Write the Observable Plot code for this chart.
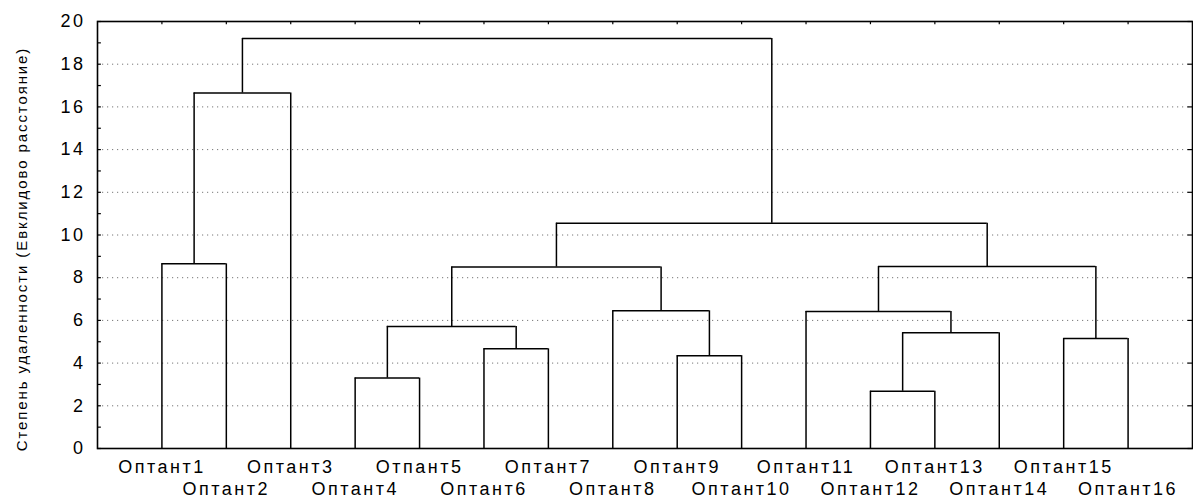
<!DOCTYPE html>
<html>
<head>
<meta charset="utf-8">
<script src="https://cdn.jsdelivr.net/npm/d3@7"></script>
<script src="https://cdn.jsdelivr.net/npm/@observablehq/plot@0.6"></script>
<style>
  html, body { margin: 0; padding: 0; background: #fff; }
  #chart svg { display: block; }
</style>
</head>
<body>
<div id="chart"></div>
<script>
// Leaves (in dendrogram order)
const leafLabels = ["Оптант1","Оптант2","Оптант3","Оптант4","Отпант5","Оптант6","Оптант7","Оптант8",
  "Оптант9","Оптант10","Оптант11","Оптант12","Оптант13","Оптант14","Оптант15","Оптант16"];

// Merges: node name, its two children (leaf number or node name), linkage distance
const nodeNames   = ["A","B","C","D","E","F","G","H","I","J","K","L","M","N","O"];
const childLeft   = [1,  "A", 4,  6,  "C", 9,  8,  "E", 12, "I", 11, 15, "K", "H", "B"];
const childRight  = [2,  3,   5,  7,  "D", 10, "F", "G", 13, 14, "J", 16, "L", "M", "N"];
const mergeHeight = [8.65, 16.65, 3.3, 4.67, 5.72, 4.35, 6.45, 8.5, 2.68, 5.42, 6.42, 5.15, 8.52, 10.55, 19.2];

const yTicks = [0,2,4,6,8,10,12,14,16,18,20];
const yTitle = "Степень удаленности (Евклидово расстояние)";

// Layout of the dendrogram (positions computed from the tree)
const pos = {}, hgt = {};
leafLabels.forEach((_, i) => { pos[i + 1] = i + 1; hgt[i + 1] = 0; });
const vSegs = [], hSegs = [];
nodeNames.forEach((n, i) => {
  const a = childLeft[i], b = childRight[i], h = mergeHeight[i];
  vSegs.push({x: pos[a], y1: hgt[a], y2: h});
  vSegs.push({x: pos[b], y1: hgt[b], y2: h});
  hSegs.push({y: h, x1: pos[a], x2: pos[b]});
  pos[n] = (pos[a] + pos[b]) / 2;
  hgt[n] = h;
});

const leafIdx = leafLabels.map((_, i) => i + 1);
const odd = leafIdx.filter(d => d % 2 === 1);
const even = leafIdx.filter(d => d % 2 === 0);
const minor = d3.range(0, 21);

const plot = Plot.plot({
  width: 1193,
  height: 499,
  marginLeft: 97,
  marginRight: 1,
  marginTop: 21,
  marginBottom: 51,
  style: {fontFamily: "'Liberation Sans', Arial, sans-serif", fontSize: "18px", color: "#000", background: "#fff"},
  x: {domain: [0, 17], axis: null},
  y: {domain: [0, 20], axis: null},
  marks: [
    Plot.gridY(yTicks.filter(d => d > 0 && d < 20), {stroke: "#777", strokeOpacity: 1, strokeWidth: 1, strokeDasharray: "1.2,3.8"}),
    // inward minor ticks on left, even ticks on right, leaf ticks on top
    Plot.ruleY(minor, {x1: 0, x2: 0.06, stroke: "#000", strokeWidth: 1.2}),
    Plot.ruleY(yTicks, {x1: 16.93, x2: 17, stroke: "#000", strokeWidth: 1.2}),
    Plot.ruleX(leafIdx, {y1: 20, y2: 19.85, stroke: "#000", strokeWidth: 1.2}),
    Plot.ruleX(vSegs, {x: "x", y1: "y1", y2: "y2", stroke: "#000", strokeWidth: 1.5}),
    Plot.ruleY(hSegs, {y: "y", x1: "x1", x2: "x2", stroke: "#000", strokeWidth: 1.5}),
    Plot.frame({stroke: "#000", strokeWidth: 1.6}),
    Plot.axisY(yTicks, {anchor: "left", tickSize: 0, tickPadding: 12, fontSize: 18, label: null}),
    Plot.axisX(odd, {anchor: "bottom", tickSize: 0, tickPadding: 12, fontSize: 18, label: null, tickFormat: d => leafLabels[d - 1]}),
    Plot.axisX(even, {anchor: "bottom", tickSize: 0, tickPadding: 34, fontSize: 18, label: null, tickFormat: d => leafLabels[d - 1]}),
    Plot.text([yTitle], {frameAnchor: "left", dx: -75, dy: 14, rotate: -90, fontSize: 15, textAnchor: "middle", lineAnchor: "middle"})
  ]
});
d3.select(plot).selectAll("text").attr("letter-spacing", "2.5px");
d3.select(plot).selectAll("text").filter(function() { return this.textContent === yTitle; }).attr("letter-spacing", "1.9px");
document.getElementById("chart").append(plot);
</script>
</body>
</html>
